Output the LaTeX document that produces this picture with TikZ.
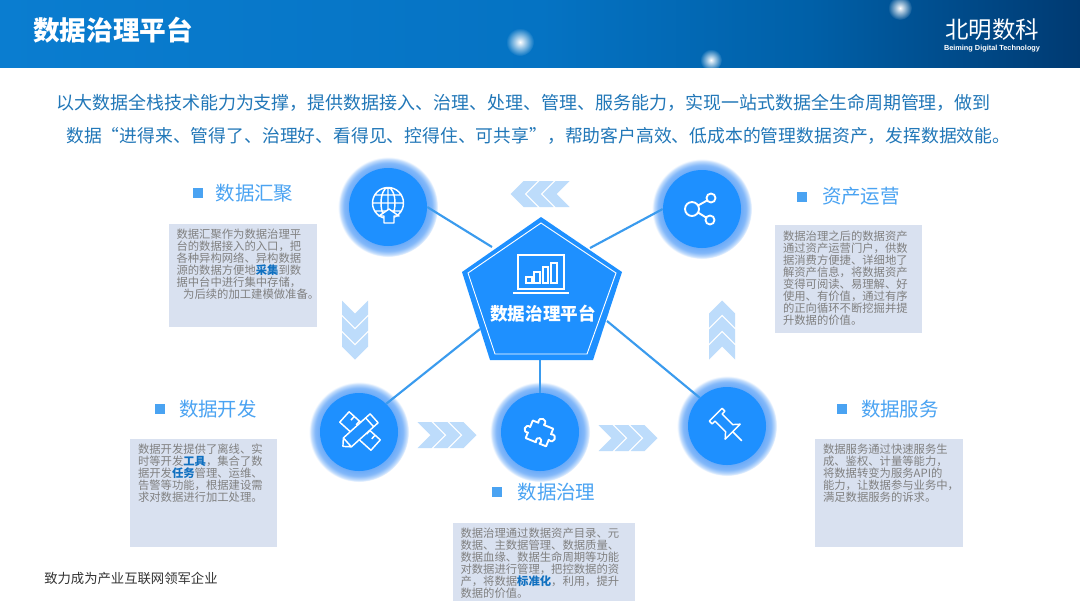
\documentclass[tikz,border=0pt]{standalone}
\usepackage{fontspec}
\setmainfont{Noto Sans CJK SC}
\newfontfamily\logofont{Liberation Sans}
\usepackage{tikz}
\usetikzlibrary{positioning, fadings}

\definecolor{hubblue}{HTML}{1E90FF}
\definecolor{glowblue}{HTML}{6CABF8}
\definecolor{linkblue}{HTML}{3A9BEE}
\definecolor{chevblue}{HTML}{BDDCFB}
\definecolor{headblue}{HTML}{4AA3F2}
\definecolor{introblue}{HTML}{2177B8}
\definecolor{keyblue}{HTML}{1070C0}
\definecolor{boxgray}{HTML}{D9E1F0}
\definecolor{bannera}{HTML}{0A7DD0}
\definecolor{bannerb}{HTML}{0573C3}
\definecolor{bannerc}{HTML}{0060A8}
\definecolor{bannerd}{HTML}{003A72}
\pgfdeclareradialshading{halo}{\pgfpointorigin}{color(0bp)=(glowblue); color(19.5bp)=(glowblue); color(22bp)=(glowblue!85!white); color(24bp)=(glowblue!40!white); color(25bp)=(white); color(50bp)=(white)}
\pgfdeclarehorizontalshading{banner}{100bp}{color(0bp)=(bannera); color(25bp)=(bannera); color(50bp)=(bannerb); color(62.5bp)=(bannerc); color(75bp)=(bannerd); color(100bp)=(bannerd)}
\tikzfading[name=sparkfade, inner color=transparent!0, outer color=transparent!100]
\newcommand{\keyword}[1]{\textbf{\textcolor{keyblue}{#1}}}

\tikzset{
    chevs/.pic={
        \foreach \i in {0,1,2}
            \fill[chevblue, shift={(\i*16,0)}] (-29.5,-13) -- (-15.5,-13) -- (-2.5,0) -- (-15.5,13) -- (-29.5,13) -- (-16.5,0) -- cycle;
    }
}

\begin{document}
\begin{tikzpicture}[
    x=0.75pt, y=-0.75pt,
    halonode/.style={circle, minimum size=75pt, inner sep=0pt, shading=halo},
    hub/.style={circle, fill=hubblue, minimum size=58.5pt, inner sep=0pt},
    link/.style={linkblue, line width=1.6pt},
    icon/.style={white, line width=1.1pt, line join=round},
    marker/.style={rectangle, fill=headblue, minimum size=7.5pt, inner sep=0pt},
    heading/.style={text=headblue, font=\fontsize{14.6}{16}\selectfont, inner sep=0pt, right=9pt of #1},
    infobox/.style 2 args={rectangle, fill=boxgray, anchor=north west, text=black!50,
                  text width=#1, text height=11.25pt, text depth=#2, inner xsep=6pt, inner ysep=0pt,
                  align=left, font=\fontsize{8.5}{9}\selectfont},
    intro/.style={text=introblue, anchor=west, inner sep=0pt, font=\fontsize{13.4}{16}\selectfont},
]
\useasboundingbox (0,0) rectangle (1080,608);
\fill[white] (0,0) rectangle (1080,608);

% banner
\shade[shading=banner] (0,0) rectangle (1080,67);
\fill[white, path fading=sparkfade] (520,42) circle (14);
\fill[white, path fading=sparkfade] (711,60) circle (11);
\fill[white, path fading=sparkfade] (900,8) circle (12);
\node[anchor=west, inner sep=0pt, text=white, font=\bfseries\fontsize{20}{24}\selectfont] (title) at (33,30) {数据治理平台};
\node[inner sep=0pt, text=white, font=\fontsize{17.6}{20}\selectfont] (logo) at (992,30) {北明数科};
\node[below=2.5pt of logo, inner sep=0pt, text=white, font=\logofont\bfseries\fontsize{5.5}{6}\selectfont] (logosub) {Beiming Digital Technology};

\node[intro, font=\fontsize{13.48}{16}\selectfont] (introa) at (56,103) {以大数据全栈技术能力为支撑，提供数据接入、治理、处理、管理、服务能力，实现一站式数据全生命周期管理，做到};
\node[intro, font=\fontsize{13.36}{16}\selectfont] (introb) at (66,136) {数据“进得来、管得了、治理好、看得见、控得住、可共享”，帮助客户高效、低成本的管理数据资产，发挥数据效能。};

% hubs
\node[halonode] (gatherglow) at (388,207) {};
\node[halonode] (operateglow) at (702,209) {};
\node[halonode] (develglow) at (359,432) {};
\node[halonode] (governglow) at (540,432) {};
\node[halonode] (serveglow) at (727,426) {};
\node[hub] (gather) at (gatherglow) {};
\node[hub] (operate) at (operateglow) {};
\node[hub] (devel) at (develglow) {};
\node[hub] (govern) at (governglow) {};
\node[hub] (serve) at (serveglow) {};

% pentagon
\coordinate (pa) at (541,217);
\coordinate (pb) at (622,272);
\coordinate (pc) at (593,360);
\coordinate (pd) at (490,360);
\coordinate (pe) at (462,272);
\coordinate (toleft) at (492,247);
\coordinate (toright) at (590,248);
\coordinate (lowleft) at (480,329);
\coordinate (lowmid) at (540,360);
\coordinate (lowright) at (607,321);
\draw[link] (gather.0) -- (toleft);
\draw[link] (operate.180) -- (toright);
\draw[link] (devel.46) -- (lowleft);
\draw[link] (govern.90) -- (lowmid);
\draw[link] (serve.134) -- (lowright);
\fill[hubblue] (pa) -- (pb) -- (pc) -- (pd) -- (pe) -- cycle;
\draw[white, line width=0.7pt] (541,223) -- (616,273) -- (587,354) -- (495,354) -- (468,273) -- cycle;
\node[inner sep=0pt, text=white, font=\bfseries\fontsize{13.2}{16}\selectfont] (pent) at (543,314) {数据治理平台};
\draw[white, line width=1.4pt] (518,255) rectangle (564,289);
\draw[white, line width=2pt] (513,293) -- (569,293);
\draw[white, line width=0.8pt] (526,277) rectangle (532,283) (534,272) rectangle (540,283) (543,267) rectangle (548,283) (551,263) rectangle (557,283);

% icons
\draw[icon] (388,203) circle (15.5) (388,203) ellipse (7 and 15.5) (388,187.5) -- (388,218.5) (372.5,203) -- (403.5,203) (375,195) -- (401,195) (375,211) -- (401,211);
\draw[icon, fill=hubblue] (389,209) -- (399,216) -- (394,216) -- (394,223) -- (384,223) -- (384,216) -- (379,216) -- cycle;

\draw[icon, line width=1.4pt] (692,209) circle (7) (711,198) circle (4.5) (710,220) circle (4.5) (698,205.5) -- (707,200.5) (698,212.5) -- (706,217.5);

\draw[icon, fill=hubblue, rotate around={-42:(360,431)}] (339,424) rectangle (381,438) (346,424) -- (346,429) (353,424) -- (353,429) (367,424) -- (367,429) (374,424) -- (374,429);
\draw[icon, fill=hubblue, rotate around={42:(360,431)}] (337,431) -- (343,425) -- (379,425) -- (379,437) -- (343,437) -- cycle (343,425) -- (343,437) (373,425) -- (373,437);

\draw[icon, line width=1.4pt, rotate around={-22:(540,432)}] (529,424) -- (535,424) .. controls (532,417) and (544,417) .. (541,424) -- (551,424) -- (551,430) .. controls (558,427) and (558,439) .. (551,436) -- (551,443) -- (544,443) .. controls (547,436) and (537,436) .. (540,443) -- (529,443) -- (529,437) .. controls (523,439) and (523,429) .. (529,431) -- cycle;

\draw[icon, rotate around={-45:(727,426)}] (711,417) -- (711,435) -- (715,435) -- (715,431) -- (730,431) -- (735,436.6) -- (735,415.4) -- (730,421) -- (715,421) -- (715,417) -- cycle (735,426) -- (748,426);

% chevrons
\pic[rotate=180] at (540,194) {chevs};
\pic[rotate=-90] at (355,330) {chevs};
\pic[rotate=90] at (722,330) {chevs};
\pic at (447,435) {chevs};
\pic at (628,438) {chevs};

% headings and texts
\node[marker] (gathermark) at (198,193) {};
\node[heading=gathermark] (gatherhead) {数据汇聚};
\node[infobox={99pt}{66pt}, below right=18.75pt and -26.25pt of gathermark] (gathertext) {数据汇聚作为数据治理平\\台的数据接入的入口，把\\各种异构网络、异构数据\\源的数据方便地\keyword{采集}到数\\据中台中进行集中存储，\\\hspace*{5pt}为后续的加工建模做准备。};

\node[marker] (operatemark) at (801.5,196.5) {};
\node[heading=operatemark, xshift=2.25pt] (operatehead) {资产运营};
\node[infobox={98.25pt}{69.75pt}, below right=17.25pt and -24pt of operatemark] (operatetext) {数据治理之后的数据资产\\通过资产运营门户，供数\\据消费方便捷、详细地了\\解资产信息，将数据资产\\变得可阅读、易理解、好\\使用、有价值，通过有序\\的正向循环不断挖掘并提\\升数据的价值。};

\node[marker] (develmark) at (159.5,409) {};
\node[heading=develmark, xshift=1.5pt] (develhead) {数据开发};
\node[infobox={98.25pt}{69.75pt}, below right=18pt and -26.25pt of develmark] (develtext) {数据开发提供了离线、实\\时等开发\keyword{工具}，集合了数\\据开发\keyword{任务}管理、运维、\\告警等功能，根据建设需\\求对数据进行加工处理。};

\node[marker] (governmark) at (497,492) {};
\node[heading=governmark, xshift=2.25pt] (governhead) {数据治理};
\node[infobox={124.5pt}{47.25pt}, below right=18.75pt and -37.5pt of governmark] (governtext) {数据治理通过数据资产目录、元\\数据、主数据管理、数据质量、\\数据血缘、数据生命周期等功能\\对数据进行管理，把控数据的资\\产，将数据\keyword{标准化}，利用，提升\\数据的价值。};

\node[marker] (servemark) at (841.5,409) {};
\node[heading=servemark, xshift=1.5pt] (servehead) {数据服务};
\node[infobox={99pt}{69.75pt}, below right=18pt and -24pt of servemark] (servetext) {数据服务通过快速服务生\\成、鉴权、计量等能力，\\将数据转变为服务API的\\能力，让数据参与业务中，\\满足数据服务的诉求。};

\node[anchor=west, inner sep=0pt, text=black!80, font=\fontsize{10}{12}\selectfont] (slogan) at (44,578) {致力成为产业互联网领军企业};
\end{tikzpicture}
\end{document}
